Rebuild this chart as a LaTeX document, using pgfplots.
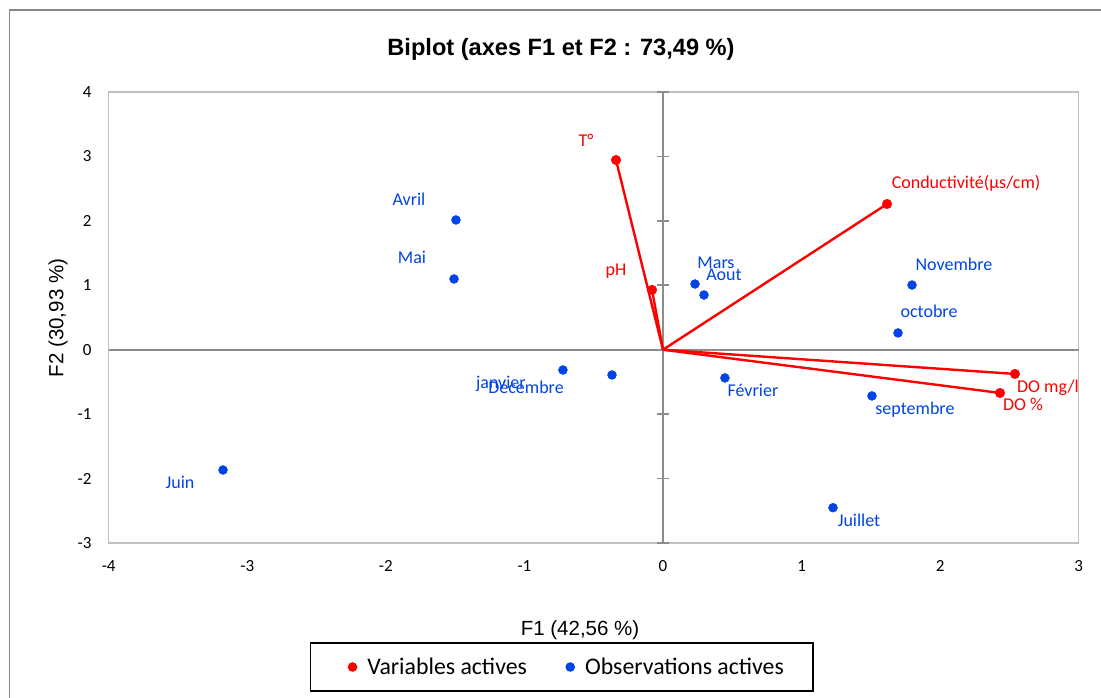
\documentclass[border=0pt]{standalone}
\usepackage{fontspec}
\setmainfont{Liberation Sans}
\newfontfamily\calibri{Carlito}
\usepackage{pgfplots}
\pgfplotsset{compat=1.18}
\usepackage{pgfplotstable}

\definecolor{varred}{RGB}{255,0,0}
\definecolor{obsblue}{RGB}{0,68,230}
\definecolor{framegray}{RGB}{134,134,134}
\definecolor{boxgray}{RGB}{192,192,192}
\definecolor{axgray}{RGB}{140,140,140}

% variables: coordinates, label offset (pt) from the point to the label's base
\pgfplotstableread{
x      y       dx   dy   name
-0.339  2.944  -30   14  {T°}
-0.079  0.928  -36   14  pH
1.617   2.262   79   15  {Conductivité(µs/cm)}
2.540  -0.376   33  -19  {DO mg/l}
2.432  -0.671   23  -18  {DO \%}
}\variables

% observations
\pgfplotstableread{
x      y       dx   dy   name
-1.494  2.014  -47   14  Avril
-1.508  1.098  -42   15  Mai
-3.175 -1.867  -43  -18  Juin
-0.722 -0.315  -62  -18  janvier
-0.368 -0.392  -86  -19  Décembre
0.231   1.020   21   15  Mars
0.296   0.849   20   15  Aout
0.447  -0.438   28  -19  Février
1.797   1.004   42   15  Novembre
1.696   0.260   31   15  octobre
1.508  -0.717   43  -19  septembre
1.227  -2.452   26  -19  Juillet
}\observations

\pgfplotsset{
    labelled/.style={
        nodes near coords,
        point meta=explicit symbolic,
        visualization depends on={\thisrow{dx} \as \dx},
        visualization depends on={\thisrow{dy} \as \dy},
        nodes near coords style={anchor=base, inner sep=0pt,
            xshift=\dx pt, yshift=\dy pt, text=#1,
            font=\calibri\fontsize{18}{21}\selectfont},
    },
    % legend dot; second argument = extra room on its left
    dotlegend/.style 2 args={legend image code/.code={
        \path (-4.5pt-#2,-4.5pt) rectangle (4.5pt,4.5pt);
        \fill[#1] (0pt,0pt) circle[radius=4.8pt];}},
    vector/.style={varred, line width=2.4pt, forget plot},
}

\begin{document}
\begin{tikzpicture}
\useasboundingbox (0,0) rectangle (1101pt,698pt);
\draw[framegray, line width=1.6pt] (9.5pt,-10pt) -- (9.5pt,688pt) -- (1120pt,688pt);

% frame with the tick labels, title and axis titles
\begin{axis}[
    at={(108.7pt,155pt)}, anchor=south west,
    scale only axis, width=970pt, height=451pt,
    xmin=-4, xmax=3, ymin=-3, ymax=4,
    axis line style={draw=boxgray, line width=1.5pt},
    major tick length=0pt,
    xtick={-4,-3,-2,-1,0,1,2,3},
    xticklabels={-4,-3,-2,-1,0,1,2,3},
    ytick={-3,-2,-1,0,1,2,3,4},
    yticklabels={-3,-2,-1,0,1,2,3,4},
    every tick label/.append style={inner sep=0pt, font=\calibri\fontsize{17}{20}\selectfont},
    xticklabel style={anchor=north, yshift=-17pt},
    yticklabel style={anchor=east, xshift=-17pt},
    title={Biplot (axes F1 et F2 : 73,49 \%)},
    title style={at={(0.4663,1.0687)}, anchor=base, inner sep=0pt,
        font=\bfseries\fontsize{23.6}{28}\selectfont},
    xlabel={F1 (42,56 \%)},
    xlabel style={at={(0.4859,-0.2062)}, anchor=base, inner sep=0pt,
        font=\fontsize{20.5}{24}\selectfont},
    ylabel={F2 (30,93 \%)},
    ylabel style={at={(-0.0523,0.4989)}, anchor=center, inner sep=0pt,
        font=\fontsize{20.5}{24}\selectfont},
]
\end{axis}

% centred axes and the data
\begin{axis}[
    at={(108.7pt,155pt)}, anchor=south west,
    scale only axis, width=970pt, height=451pt,
    xmin=-4, xmax=3, ymin=-3, ymax=4,
    axis lines=middle,
    axis line style={draw=axgray, line width=1.8pt, -},
    xtick=\empty,
    ytick={-3,-2,-1,0,1,2,3,4},
    yticklabels={},
    tick style={draw=axgray, line width=1.8pt},
    major tick length=12pt, tick align=center,
    clip=false,
    legend columns=2,
    legend style={at={(0.4670,-0.2750)}, anchor=center,
        draw=black, line width=1.8pt,
        inner xsep=29pt, inner ysep=15pt,
        font=\calibri\fontsize{23.8}{28}\selectfont,
        nodes={inner sep=0pt},
        /tikz/every odd column/.append style={column sep=10pt},
        /tikz/every even column/.append style={column sep=38.5pt}},
]
\addplot[vector] coordinates {(0,0) (-0.339,2.944)};
\addplot[vector] coordinates {(0,0) (-0.079,0.928)};
\addplot[vector] coordinates {(0,0) (1.617,2.262)};
\addplot[vector] coordinates {(0,0) (2.540,-0.376)};
\addplot[vector] coordinates {(0,0) (2.432,-0.671)};

\addplot[draw=none, mark=*, mark size=4.8pt, color=varred,
    labelled=varred, dotlegend={varred}{8.5pt}]
    table[x=x, y=y, meta=name] {\variables};
\addlegendentry{Variables actives}

\addplot[draw=none, mark=*, mark size=4.5pt, color=obsblue,
    labelled=obsblue, dotlegend={obsblue}{0pt}]
    table[x=x, y=y, meta=name] {\observations};
\addlegendentry{Observations actives}
\end{axis}
\end{tikzpicture}
\end{document}
